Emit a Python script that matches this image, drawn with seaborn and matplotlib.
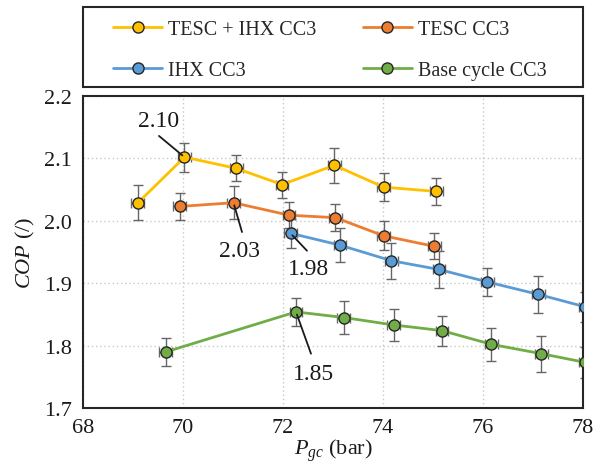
import numpy as np
import pandas as pd
import matplotlib
matplotlib.use("Agg")
import matplotlib.pyplot as plt
from matplotlib.lines import Line2D
from matplotlib.patches import Rectangle
import seaborn as sns

# ---- data ----
series_names = ["TESC + IHX CC3", "TESC CC3", "IHX CC3", "Base cycle CC3"]

p_tesc_ihx = [69.10, 70.03, 71.07, 71.98, 73.03, 74.01, 75.07]
cop_tesc_ihx = [2.029, 2.102, 2.084, 2.058, 2.089, 2.054, 2.047]
err_tesc_ihx = [0.028, 0.023, 0.021, 0.021, 0.028, 0.022, 0.022]

p_tesc = [69.94, 71.01, 72.12, 73.05, 74.01, 75.03]
cop_tesc = [2.023, 2.029, 2.009, 2.005, 1.976, 1.959]
err_tesc = [0.021, 0.026, 0.021, 0.022, 0.023, 0.021]

p_ihx = [72.15, 73.14, 74.17, 75.12, 76.09, 77.11, 78.05]
cop_ihx = [1.980, 1.961, 1.936, 1.922, 1.902, 1.882, 1.862]
err_ihx = [0.023, 0.027, 0.029, 0.029, 0.023, 0.029, 0.024]

p_base = [69.66, 72.26, 73.22, 74.22, 75.18, 76.17, 77.17, 78.05]
cop_base = [1.790, 1.854, 1.845, 1.833, 1.824, 1.802, 1.787, 1.773]
err_base = [0.022, 0.023, 0.027, 0.025, 0.024, 0.027, 0.029, 0.025]

p_err = 0.13

colors = ["#FFC000", "#ED7D31", "#5B9BD5", "#70AD47"]

x_ticks = [68, 70, 72, 74, 76, 78]
y_ticks = [1.7, 1.8, 1.9, 2.0, 2.1, 2.2]

# annotations: label, point (x, y), line end (x, y), text pos (x, y)
ann_labels = ["2.10", "2.03", "1.98", "1.85"]
ann_points = [(70.03, 2.102), (71.01, 2.029), (72.15, 1.980), (72.26, 1.854)]
ann_line_ends = [(69.52, 2.136), (71.18, 1.982), (72.48, 1.952), (72.56, 1.787)]
ann_text_pos = [(69.52, 2.160), (71.14, 1.953), (72.50, 1.923), (72.60, 1.755)]

# ---- build table ----
all_p = [p_tesc_ihx, p_tesc, p_ihx, p_base]
all_cop = [cop_tesc_ihx, cop_tesc, cop_ihx, cop_base]
all_err = [err_tesc_ihx, err_tesc, err_ihx, err_base]
frames = []
for name, p, c, e in zip(series_names, all_p, all_cop, all_err):
    frames.append(pd.DataFrame({"P": p, "COP": c, "err": e, "series": name}))
df = pd.concat(frames, ignore_index=True)

# ---- style ----
sns.set_theme(style="white")
plt.rcParams["font.family"] = ["Liberation Serif", "DejaVu Serif"]
plt.rcParams["mathtext.fontset"] = "custom"
plt.rcParams["mathtext.rm"] = "Liberation Serif"
plt.rcParams["mathtext.it"] = "Liberation Serif:italic"

W, H = 593, 477
fig = plt.figure(figsize=(W / 100, H / 100), dpi=100)
ax = fig.add_axes([83 / W, 1 - 409 / H, 500 / W, 312 / H])

# error bars first
for name, col in zip(series_names, colors):
    sub = df[df.series == name]
    ax.errorbar(sub.P, sub.COP, yerr=sub.err, xerr=p_err, fmt="none",
                ecolor="#666666", elinewidth=1.0, capsize=3.3, capthick=1.0,
                zorder=2)

sns.lineplot(data=df, x="P", y="COP", hue="series", hue_order=series_names,
             palette=colors, sort=False, estimator=None, errorbar=None,
             marker="o", markersize=8, markeredgecolor="#262626",
             markeredgewidth=1.0, linewidth=2.0, legend=False, ax=ax,
             zorder=3)

ax.set_xlim(68, 78)
ax.set_ylim(1.7, 2.2)
ax.set_xticks(x_ticks)
ax.set_yticks(y_ticks)
ax.set_xticklabels([str(v) for v in x_ticks])
ax.set_yticklabels([f"{v:.1f}" for v in y_ticks])
ax.grid(True, linestyle=(0, (1, 2)), color="#c8c8c8", linewidth=1.0)
ax.set_axisbelow(True)
for s in ax.spines.values():
    s.set_color("#262626")
    s.set_linewidth(1.5)
ax.tick_params(axis="x", direction="inout", length=8, width=1.3,
               labelsize=16, colors="#262626", labelcolor="#1a1a1a", pad=3)
ax.tick_params(axis="y", direction="out", length=5, width=1.3,
               labelsize=16, colors="#262626", labelcolor="#1a1a1a", pad=3)
ax.set_xlabel("$P_{gc}$ (bar)", fontsize=16, labelpad=0, color="#1a1a1a")
ax.set_ylabel("$COP$ (/)", fontsize=16, labelpad=5, color="#1a1a1a")

for lab, pt, le, tp in zip(ann_labels, ann_points, ann_line_ends, ann_text_pos):
    ax.annotate("", xy=pt, xytext=le,
                arrowprops=dict(arrowstyle="-", color="#1a1a1a", lw=1.3,
                                shrinkA=0, shrinkB=2), zorder=4)
    ax.text(tp[0], tp[1], lab, ha="center", va="center", fontsize=17,
            color="#1a1a1a", zorder=5)

# legend box (spans the axes width, above the axes)
fig.patches.append(Rectangle((83 / W, 1 - 88 / H), 500 / W, 80 / H,
                             transform=fig.transFigure, fill=False,
                             edgecolor="#262626", linewidth=1.5))

# legend: row 1 -> TESC+IHX, TESC ; row 2 -> IHX, Base
handles = [Line2D([0], [0], color=c, lw=2.0, marker="o", markersize=8,
                  markeredgecolor="#262626", markeredgewidth=1.0)
           for c in colors]
order = [0, 2, 1, 3]
leg = fig.legend([handles[i] for i in order], [series_names[i] for i in order],
                 ncol=2, loc="upper left",
                 bbox_to_anchor=(113 / W, 1 - 21 / H),
                 bbox_transform=fig.transFigure,
                 borderaxespad=0, borderpad=0, fontsize=14.5, frameon=False,
                 handlelength=2.45, handletextpad=0.28, columnspacing=2.3,
                 labelspacing=1.08)

fig.savefig("out.png", dpi=100)
